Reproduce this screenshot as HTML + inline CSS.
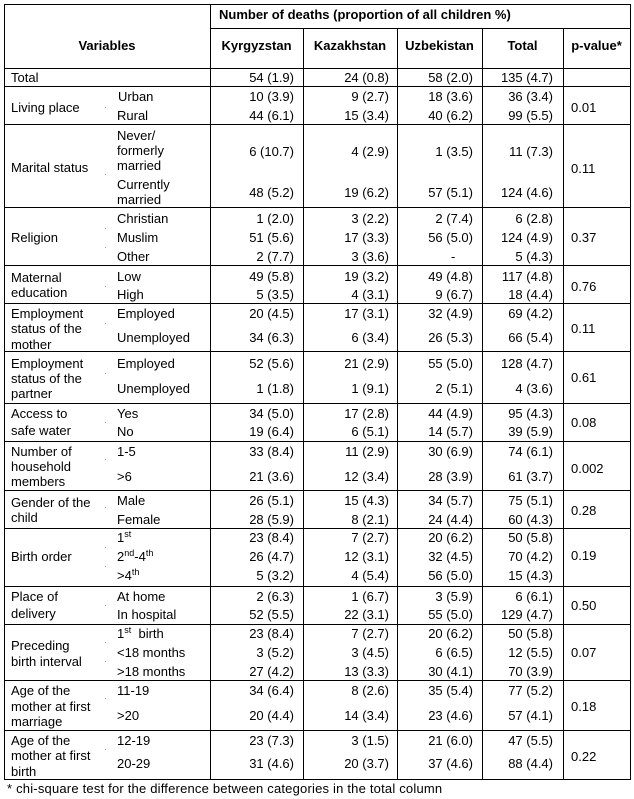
<!DOCTYPE html>
<html>
<head>
<meta charset="utf-8">
<style>
html,body{margin:0;padding:0;background:#fff;}
#pg{position:relative;width:634px;height:799px;overflow:hidden;background:#fff;}
.t{position:absolute;font-family:"Liberation Sans",Arial,sans-serif;font-size:13px;line-height:15px;height:15px;white-space:nowrap;color:#000;}
.b{font-weight:bold;}
.c1,.c2,.c3,.c4{text-align:right;}
.c1{right:340px;}
.c2{right:245px;}
.c3{right:161px;}
.c4{right:81px;}
.p{left:571px;}
.l{left:11px;}
.s{left:117px;}
.h{position:absolute;height:1px;background:#000;}
.v{position:absolute;width:1px;background:#000;}
.d{position:absolute;width:1px;height:1px;background:#999;left:105px;}
sup{font-size:9px;line-height:0;vertical-align:5px;}
</style>
</head>
<body>
<div id="pg">
<!-- horizontal lines -->
<div class="h" style="left:4px;width:627px;top:4px"></div>
<div class="h" style="left:210px;width:421px;top:28px"></div>
<div class="h" style="left:4px;width:627px;top:68px"></div>
<div class="h" style="left:4px;width:627px;top:86px"></div>
<div class="h" style="left:4px;width:627px;top:124px"></div>
<div class="h" style="left:4px;width:627px;top:207px"></div>
<div class="h" style="left:4px;width:627px;top:265px"></div>
<div class="h" style="left:4px;width:627px;top:303px"></div>
<div class="h" style="left:4px;width:627px;top:351px"></div>
<div class="h" style="left:4px;width:627px;top:403px"></div>
<div class="h" style="left:4px;width:627px;top:441px"></div>
<div class="h" style="left:4px;width:627px;top:490px"></div>
<div class="h" style="left:4px;width:627px;top:528px"></div>
<div class="h" style="left:4px;width:627px;top:586px"></div>
<div class="h" style="left:4px;width:627px;top:624px"></div>
<div class="h" style="left:4px;width:627px;top:680px"></div>
<div class="h" style="left:4px;width:627px;top:730px"></div>
<div class="h" style="left:4px;width:627px;top:779px"></div>
<!-- vertical lines -->
<div class="v" style="left:4px;top:4px;height:776px"></div>
<div class="v" style="left:210px;top:4px;height:776px"></div>
<div class="v" style="left:303px;top:28px;height:752px"></div>
<div class="v" style="left:397px;top:28px;height:752px"></div>
<div class="v" style="left:482px;top:28px;height:752px"></div>
<div class="v" style="left:563px;top:28px;height:752px"></div>
<div class="v" style="left:630px;top:4px;height:776px"></div>

<!-- dots -->
<div class="d" style="top:107px"></div>
<div class="d" style="top:174px"></div>
<div class="d" style="top:228px"></div>
<div class="d" style="top:247px"></div>
<div class="d" style="top:286px"></div>
<div class="d" style="top:323px"></div>
<div class="d" style="top:373px"></div>
<div class="d" style="top:422px"></div>
<div class="d" style="top:459px"></div>
<div class="d" style="top:507px"></div>
<div class="d" style="top:547px"></div>
<div class="d" style="top:566px"></div>
<div class="d" style="top:605px"></div>
<div class="d" style="top:642px"></div>
<div class="d" style="top:661px"></div>
<div class="d" style="top:698px"></div>
<div class="d" style="top:749px"></div>

<!-- header -->
<div class="t b" style="left:219px;top:6.6px">Number of deaths (proportion of all children %)</div>
<div class="t b" style="left:4px;width:206px;text-align:center;top:37.6px">Variables</div>
<div class="t b" style="left:210px;width:93px;text-align:center;top:37.6px">Kyrgyzstan</div>
<div class="t b" style="left:303px;width:94px;text-align:center;top:37.6px">Kazakhstan</div>
<div class="t b" style="left:397px;width:85px;text-align:center;top:37.6px">Uzbekistan</div>
<div class="t b" style="left:482px;width:81px;text-align:center;top:37.6px">Total</div>
<div class="t b" style="left:563px;width:67px;text-align:center;top:37.6px">p-value*</div>

<!-- Total -->
<div class="t l" style="top:70px">Total</div>
<div class="t c1" style="top:70px">54 (1.9)</div>
<div class="t c2" style="top:70px">24 (0.8)</div>
<div class="t c3" style="top:70px">58 (2.0)</div>
<div class="t c4" style="top:70px">135 (4.7)</div>

<!-- Living place -->
<div class="t l" style="top:100px">Living place</div>
<div class="t" style="left:118px;top:89.3px">Urban</div>
<div class="t s" style="top:108px">Rural</div>
<div class="t c1" style="top:89.3px">10 (3.9)</div>
<div class="t c2" style="top:89.3px">9 (2.7)</div>
<div class="t c3" style="top:89.3px">18 (3.6)</div>
<div class="t c4" style="top:89.3px">36 (3.4)</div>
<div class="t c1" style="top:108px">44 (6.1)</div>
<div class="t c2" style="top:108px">15 (3.4)</div>
<div class="t c3" style="top:108px">40 (6.2)</div>
<div class="t c4" style="top:108px">99 (5.5)</div>
<div class="t p" style="top:100px">0.01</div>

<!-- Marital status -->
<div class="t l" style="top:160.3px">Marital status</div>
<div class="t s" style="top:127.6px">Never/</div>
<div class="t s" style="top:142.6px">formerly</div>
<div class="t s" style="top:157.6px">married</div>
<div class="t s" style="top:176.6px">Currently</div>
<div class="t s" style="top:192px">married</div>
<div class="t c1" style="top:144.3px">6 (10.7)</div>
<div class="t c2" style="top:144.3px">4 (2.9)</div>
<div class="t c3" style="top:144.3px">1 (3.5)</div>
<div class="t c4" style="top:144.3px">11 (7.3)</div>
<div class="t c1" style="top:185.3px">48 (5.2)</div>
<div class="t c2" style="top:185.3px">19 (6.2)</div>
<div class="t c3" style="top:185.3px">57 (5.1)</div>
<div class="t c4" style="top:185.3px">124 (4.6)</div>
<div class="t p" style="top:161px">0.11</div>

<!-- Religion -->
<div class="t l" style="top:230px">Religion</div>
<div class="t s" style="top:211px">Christian</div>
<div class="t s" style="top:230px">Muslim</div>
<div class="t s" style="top:248.6px">Other</div>
<div class="t c1" style="top:211px">1 (2.0)</div>
<div class="t c2" style="top:211px">3 (2.2)</div>
<div class="t c3" style="top:211px">2 (7.4)</div>
<div class="t c4" style="top:211px">6 (2.8)</div>
<div class="t c1" style="top:230px">51 (5.6)</div>
<div class="t c2" style="top:230px">17 (3.3)</div>
<div class="t c3" style="top:230px">56 (5.0)</div>
<div class="t c4" style="top:230px">124 (4.9)</div>
<div class="t c1" style="top:248.6px">2 (7.7)</div>
<div class="t c2" style="top:248.6px">3 (3.6)</div>
<div class="t" style="left:451px;top:248.6px">-</div>
<div class="t c4" style="top:248.6px">5 (4.3)</div>
<div class="t p" style="top:230px">0.37</div>

<!-- Maternal education -->
<div class="t l" style="top:270.3px">Maternal</div>
<div class="t l" style="top:285.3px">education</div>
<div class="t s" style="top:268.6px">Low</div>
<div class="t s" style="top:287px">High</div>
<div class="t c1" style="top:268.6px">49 (5.8)</div>
<div class="t c2" style="top:268.6px">19 (3.2)</div>
<div class="t c3" style="top:268.6px">49 (4.8)</div>
<div class="t c4" style="top:268.6px">117 (4.8)</div>
<div class="t c1" style="top:287px">5 (3.5)</div>
<div class="t c2" style="top:287px">4 (3.1)</div>
<div class="t c3" style="top:287px">9 (6.7)</div>
<div class="t c4" style="top:287px">18 (4.4)</div>
<div class="t p" style="top:278.6px">0.76</div>

<!-- Employment mother -->
<div class="t l" style="top:306px">Employment</div>
<div class="t l" style="top:321px">status of the</div>
<div class="t l" style="top:336.6px">mother</div>
<div class="t s" style="top:306px">Employed</div>
<div class="t s" style="top:330.3px">Unemployed</div>
<div class="t c1" style="top:306px">20 (4.5)</div>
<div class="t c2" style="top:306px">17 (3.1)</div>
<div class="t c3" style="top:306px">32 (4.9)</div>
<div class="t c4" style="top:306px">69 (4.2)</div>
<div class="t c1" style="top:330.3px">34 (6.3)</div>
<div class="t c2" style="top:330.3px">6 (3.4)</div>
<div class="t c3" style="top:330.3px">26 (5.3)</div>
<div class="t c4" style="top:330.3px">66 (5.4)</div>
<div class="t p" style="top:321px">0.11</div>

<!-- Employment partner -->
<div class="t l" style="top:356px">Employment</div>
<div class="t l" style="top:371px">status of the</div>
<div class="t l" style="top:386px">partner</div>
<div class="t s" style="top:356px">Employed</div>
<div class="t s" style="top:381px">Unemployed</div>
<div class="t c1" style="top:356px">52 (5.6)</div>
<div class="t c2" style="top:356px">21 (2.9)</div>
<div class="t c3" style="top:356px">55 (5.0)</div>
<div class="t c4" style="top:356px">128 (4.7)</div>
<div class="t c1" style="top:381px">1 (1.8)</div>
<div class="t c2" style="top:381px">1 (9.1)</div>
<div class="t c3" style="top:381px">2 (5.1)</div>
<div class="t c4" style="top:381px">4 (3.6)</div>
<div class="t p" style="top:370px">0.61</div>

<!-- Access to safe water -->
<div class="t l" style="top:406px">Access to</div>
<div class="t l" style="top:422.6px">safe water</div>
<div class="t s" style="top:406px">Yes</div>
<div class="t s" style="top:424px">No</div>
<div class="t c1" style="top:406px">34 (5.0)</div>
<div class="t c2" style="top:406px">17 (2.8)</div>
<div class="t c3" style="top:406px">44 (4.9)</div>
<div class="t c4" style="top:406px">95 (4.3)</div>
<div class="t c1" style="top:424px">19 (6.4)</div>
<div class="t c2" style="top:424px">6 (5.1)</div>
<div class="t c3" style="top:424px">14 (5.7)</div>
<div class="t c4" style="top:424px">39 (5.9)</div>
<div class="t p" style="top:415px">0.08</div>

<!-- Household members -->
<div class="t l" style="top:443.6px">Number of</div>
<div class="t l" style="top:458.6px">household</div>
<div class="t l" style="top:473.6px">members</div>
<div class="t s" style="top:443.6px">1-5</div>
<div class="t s" style="top:468.6px">&gt;6</div>
<div class="t c1" style="top:443.6px">33 (8.4)</div>
<div class="t c2" style="top:443.6px">11 (2.9)</div>
<div class="t c3" style="top:443.6px">30 (6.9)</div>
<div class="t c4" style="top:443.6px">74 (6.1)</div>
<div class="t c1" style="top:468.6px">21 (3.6)</div>
<div class="t c2" style="top:468.6px">12 (3.4)</div>
<div class="t c3" style="top:468.6px">28 (3.9)</div>
<div class="t c4" style="top:468.6px">61 (3.7)</div>
<div class="t p" style="top:461px">0.002</div>

<!-- Gender -->
<div class="t l" style="top:495px">Gender of the</div>
<div class="t l" style="top:510px">child</div>
<div class="t s" style="top:492.6px">Male</div>
<div class="t s" style="top:511.6px">Female</div>
<div class="t c1" style="top:492.6px">26 (5.1)</div>
<div class="t c2" style="top:492.6px">15 (4.3)</div>
<div class="t c3" style="top:492.6px">34 (5.7)</div>
<div class="t c4" style="top:492.6px">75 (5.1)</div>
<div class="t c1" style="top:511.6px">28 (5.9)</div>
<div class="t c2" style="top:511.6px">8 (2.1)</div>
<div class="t c3" style="top:511.6px">24 (4.4)</div>
<div class="t c4" style="top:511.6px">60 (4.3)</div>
<div class="t p" style="top:502.6px">0.28</div>

<!-- Birth order -->
<div class="t l" style="top:549.3px">Birth order</div>
<div class="t s" style="top:530px">1<sup>st</sup></div>
<div class="t s" style="top:548.6px">2<sup>nd</sup>-4<sup>th</sup></div>
<div class="t s" style="top:567.6px">&gt;4<sup>th</sup></div>
<div class="t c1" style="top:530px">23 (8.4)</div>
<div class="t c2" style="top:530px">7 (2.7)</div>
<div class="t c3" style="top:530px">20 (6.2)</div>
<div class="t c4" style="top:530px">50 (5.8)</div>
<div class="t c1" style="top:548.6px">26 (4.7)</div>
<div class="t c2" style="top:548.6px">12 (3.1)</div>
<div class="t c3" style="top:548.6px">32 (4.5)</div>
<div class="t c4" style="top:548.6px">70 (4.2)</div>
<div class="t c1" style="top:567.6px">5 (3.2)</div>
<div class="t c2" style="top:567.6px">4 (5.4)</div>
<div class="t c3" style="top:567.6px">56 (5.0)</div>
<div class="t c4" style="top:567.6px">15 (4.3)</div>
<div class="t p" style="top:548.3px">0.19</div>

<!-- Place of delivery -->
<div class="t l" style="top:589.3px">Place of</div>
<div class="t l" style="top:606px">delivery</div>
<div class="t s" style="top:588.6px">At home</div>
<div class="t s" style="top:607px">In hospital</div>
<div class="t c1" style="top:588.6px">2 (6.3)</div>
<div class="t c2" style="top:588.6px">1 (6.7)</div>
<div class="t c3" style="top:588.6px">3 (5.9)</div>
<div class="t c4" style="top:588.6px">6 (6.1)</div>
<div class="t c1" style="top:607px">52 (5.5)</div>
<div class="t c2" style="top:607px">22 (3.1)</div>
<div class="t c3" style="top:607px">55 (5.0)</div>
<div class="t c4" style="top:607px">129 (4.7)</div>
<div class="t p" style="top:597.6px">0.50</div>

<!-- Preceding birth interval -->
<div class="t l" style="top:637.6px">Preceding</div>
<div class="t l" style="top:653.6px">birth interval</div>
<div class="t s" style="top:626px">1<sup>st</sup>&nbsp; birth</div>
<div class="t s" style="top:645px">&lt;18 months</div>
<div class="t s" style="top:663.6px">&gt;18 months</div>
<div class="t c1" style="top:626px">23 (8.4)</div>
<div class="t c2" style="top:626px">7 (2.7)</div>
<div class="t c3" style="top:626px">20 (6.2)</div>
<div class="t c4" style="top:626px">50 (5.8)</div>
<div class="t c1" style="top:645px">3 (5.2)</div>
<div class="t c2" style="top:645px">3 (4.5)</div>
<div class="t c3" style="top:645px">6 (6.5)</div>
<div class="t c4" style="top:645px">12 (5.5)</div>
<div class="t c1" style="top:663.6px">27 (4.2)</div>
<div class="t c2" style="top:663.6px">13 (3.3)</div>
<div class="t c3" style="top:663.6px">30 (4.1)</div>
<div class="t c4" style="top:663.6px">70 (3.9)</div>
<div class="t p" style="top:645.3px">0.07</div>

<!-- Age at first marriage -->
<div class="t l" style="top:682.6px">Age of the</div>
<div class="t l" style="top:698.6px">mother at first</div>
<div class="t l" style="top:713.6px">marriage</div>
<div class="t s" style="top:682.6px">11-19</div>
<div class="t s" style="top:707.6px">&gt;20</div>
<div class="t c1" style="top:682.6px">34 (6.4)</div>
<div class="t c2" style="top:682.6px">8 (2.6)</div>
<div class="t c3" style="top:682.6px">35 (5.4)</div>
<div class="t c4" style="top:682.6px">77 (5.2)</div>
<div class="t c1" style="top:707.6px">20 (4.4)</div>
<div class="t c2" style="top:707.6px">14 (3.4)</div>
<div class="t c3" style="top:707.6px">23 (4.6)</div>
<div class="t c4" style="top:707.6px">57 (4.1)</div>
<div class="t p" style="top:699.3px">0.18</div>

<!-- Age at first birth -->
<div class="t l" style="top:733.3px">Age of the</div>
<div class="t l" style="top:748.3px">mother at first</div>
<div class="t l" style="top:763.6px">birth</div>
<div class="t s" style="top:733.3px">12-19</div>
<div class="t s" style="top:756px">20-29</div>
<div class="t c1" style="top:733.3px">23 (7.3)</div>
<div class="t c2" style="top:733.3px">3 (1.5)</div>
<div class="t c3" style="top:733.3px">21 (6.0)</div>
<div class="t c4" style="top:733.3px">47 (5.5)</div>
<div class="t c1" style="top:756px">31 (4.6)</div>
<div class="t c2" style="top:756px">20 (3.7)</div>
<div class="t c3" style="top:756px">37 (4.6)</div>
<div class="t c4" style="top:756px">88 (4.4)</div>
<div class="t p" style="top:748.6px">0.22</div>

<!-- footnote -->
<div class="t" style="left:7px;top:781px;letter-spacing:0.2px">* chi-square test for the difference between categories in the total column</div>
</div>
</body>
</html>
